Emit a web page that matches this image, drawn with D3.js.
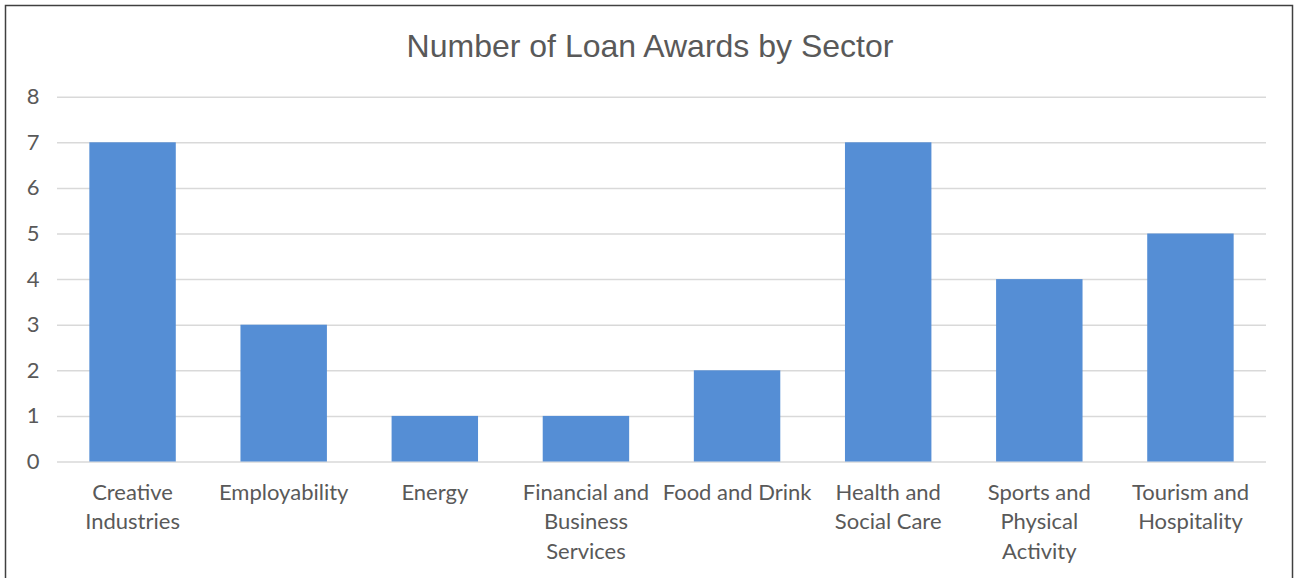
<!DOCTYPE html>
<html>
<head>
<meta charset="utf-8">
<script src="https://cdn.jsdelivr.net/npm/d3@7"></script>
<style>
  body { margin: 0; background: #fff; }
  svg { display: block; }
  .tick text { fill: #595959; font-family: Lato, "Open Sans", sans-serif; font-size: 22px; }
</style>
</head>
<body>
<div id="chart"></div>
<script>
var svgWidth = 1296;
var svgHeight = 578;

var sectors = ["Creative Industries", "Employability", "Energy", "Financial and Business Services",
  "Food and Drink", "Health and Social Care", "Sports and Physical Activity", "Tourism and Hospitality"];
var sectorLabelLines = [
  ["Creative", "Industries"],
  ["Employability"],
  ["Energy"],
  ["Financial and", "Business", "Services"],
  ["Food and Drink"],
  ["Health and", "Social Care"],
  ["Sports and", "Physical", "Activity"],
  ["Tourism and", "Hospitality"]
];
var awards = [7, 3, 1, 1, 2, 7, 4, 5];
var yTicks = [0, 1, 2, 3, 4, 5, 6, 7, 8];

var plot = { left: 57, right: 1266, top: 96.7, bottom: 461.5 };

var svg = d3.select("#chart")
  .append("svg")
  .attr("width", svgWidth)
  .attr("height", svgHeight);

// outer chart border
svg.append("rect")
  .attr("x", 5.5)
  .attr("y", 5.5)
  .attr("width", 1287)
  .attr("height", 600)
  .attr("fill", "none")
  .attr("stroke", "#404040")
  .attr("stroke-width", 1.5);

svg.append("text")
  .attr("x", 650)
  .attr("y", 57)
  .attr("text-anchor", "middle")
  .attr("fill", "#595959")
  .style("font-family", "'Liberation Sans', Arial, sans-serif")
  .style("font-size", "32px")
  .text("Number of Loan Awards by Sector");

var x = d3.scaleBand()
  .domain(sectors)
  .range([plot.left, plot.right])
  .paddingInner(0.428)
  .paddingOuter(0.214);

var y = d3.scaleLinear()
  .domain([0, 8])
  .range([plot.bottom, plot.top]);

// gridlines + y labels
var yAxis = svg.append("g")
  .attr("transform", `translate(${plot.left}, 0)`)
  .call(d3.axisLeft(y).tickValues(yTicks).tickSize(-(plot.right - plot.left)).tickPadding(18));

yAxis.select(".domain").remove();
yAxis.selectAll(".tick line")
  .attr("stroke", "#d9d9d9")
  .attr("stroke-width", 1.5);
yAxis.selectAll(".tick text").attr("text-anchor", "middle").attr("dx", "-6");

svg.append("g")
  .selectAll("rect")
  .data(awards)
  .enter()
  .append("rect")
  .attr("x", (d, i) => x(sectors[i]))
  .attr("y", d => y(d))
  .attr("width", x.bandwidth())
  .attr("height", d => y(0) - y(d))
  .attr("fill", "#558ed5");

// x labels, split into lines like the original
var xAxis = svg.append("g")
  .attr("transform", `translate(0, ${plot.bottom})`)
  .call(d3.axisBottom(x).tickSize(0).tickFormat(""));

xAxis.select(".domain").remove();
xAxis.selectAll(".tick text")
  .attr("y", 0)
  .attr("dy", null)
  .each(function(d, i) {
    var t = d3.select(this);
    sectorLabelLines[i].forEach(function(line, j) {
      t.append("tspan")
        .attr("x", 0)
        .attr("y", 38 + j * 29.5)
        .text(line);
    });
  });
</script>
</body>
</html>
